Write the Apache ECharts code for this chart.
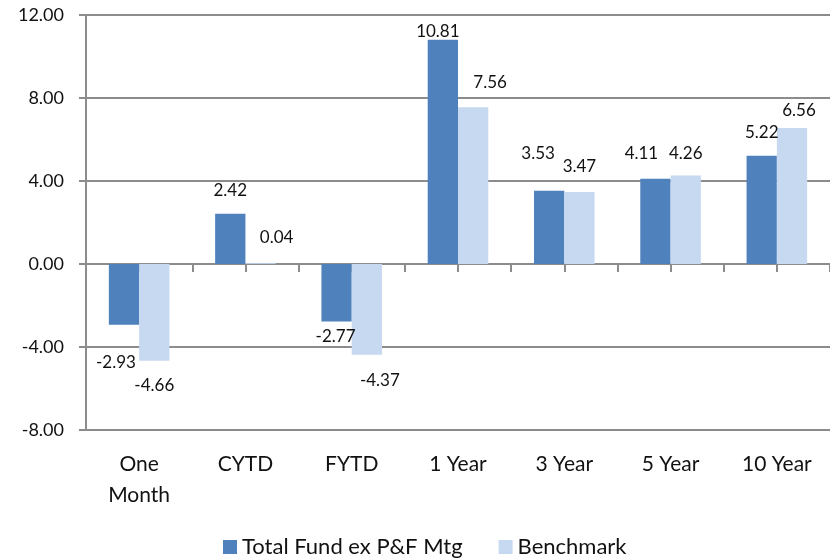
<!DOCTYPE html>
<html>
<head>
<meta charset="utf-8">
<script src="https://cdn.jsdelivr.net/npm/echarts@6/dist/echarts.min.js"></script>
<style>html,body{margin:0;padding:0;background:#fff}#c{width:830px;height:558px}</style>
</head>
<body>
<div id="c"></div>
<script>
var categories = ['One\nMonth', 'CYTD', 'FYTD', '1 Year', '3 Year', '5 Year', '10 Year'];
var fundValues = [-2.93, 2.42, -2.77, 10.81, 3.53, 4.11, 5.22];
var benchValues = [-4.66, 0.04, -4.37, 7.56, 3.47, 4.26, 6.56];
var seriesNames = ['Total Fund ex P&F Mtg', 'Benchmark'];
var yTicks = { min: -8, max: 12, step: 4 };

// label nudges (style only, pixel offsets from default label spot)
var fundNudge = [[-8, 29], [0, -15], [-1, 7], [-5, 0], [-11, -29], [-14, -17], [0, -15]];
var benchNudge = [[0, 16], [16, -17], [13, 17], [17, -16], [0, -17], [0, -14], [7, -9]];

var FONT = 'Lato, "Open Sans", sans-serif';
var GRAY = '#8c8c8c';

function buildData(vals, nudges) {
  return vals.map(function (v, i) {
    return {
      value: v,
      label: {
        position: v >= 0 ? 'top' : 'bottom',
        offset: nudges[i]
      }
    };
  });
}

var chart = echarts.init(document.getElementById('c'), null, { renderer: 'canvas' });
chart.setOption({
  animation: false,
  backgroundColor: '#fff',
  textStyle: { fontFamily: FONT },
  grid: { left: 86, right: 0, top: 15, bottom: 128, containLabel: false },
  legend: {
    data: seriesNames,
    left: 218,
    top: 531,
    icon: 'rect',
    itemWidth: 14,
    itemHeight: 14,
    itemGap: 36,
    textStyle: { fontFamily: FONT, fontSize: 22, color: '#111' }
  },
  xAxis: [
    {
      type: 'category',
      data: categories,
      position: 'bottom',
      axisLine: { show: true, onZero: false, lineStyle: { color: GRAY, width: 2 } },
      axisTick: { show: false },
      axisLabel: { fontFamily: FONT, fontSize: 21, color: '#111', margin: 19, lineHeight: 31, interval: 0 },
      splitLine: { show: false }
    },
    {
      type: 'value',
      min: 0,
      max: 14,
      interval: 1,
      position: 'bottom',
      axisLine: { show: true, onZero: true, lineStyle: { color: GRAY, width: 2 } },
      axisTick: { show: true, inside: false, length: 8, lineStyle: { color: GRAY, width: 2 } },
      axisLabel: { show: false },
      splitLine: { show: false }
    }
  ],
  yAxis: {
    type: 'value',
    min: yTicks.min,
    max: yTicks.max,
    interval: yTicks.step,
    axisLine: { show: true, lineStyle: { color: GRAY, width: 2 } },
    axisTick: { show: true, length: 7, lineStyle: { color: GRAY, width: 2 } },
    axisLabel: {
      fontFamily: FONT, fontSize: 18, color: '#111', margin: 22,
      formatter: function (v) { return v.toFixed(2); }
    },
    splitLine: { show: true, lineStyle: { color: GRAY, width: 2 } }
  },
  series: [
    {
      name: seriesNames[0],
      type: 'bar',
      xAxisIndex: 0,
      data: buildData(fundValues, fundNudge),
      barGap: '0%',
      barCategoryGap: '43%',
      itemStyle: { color: '#4F81BD' },
      label: {
        show: true, distance: 0, fontFamily: FONT, fontSize: 17, color: '#111',
        formatter: function (p) { return p.value.toFixed(2); }
      }
    },
    {
      name: seriesNames[1],
      type: 'bar',
      xAxisIndex: 0,
      data: buildData(benchValues, benchNudge),
      barGap: '0%',
      barCategoryGap: '43%',
      itemStyle: { color: '#C6D9F1' },
      label: {
        show: true, distance: 0, fontFamily: FONT, fontSize: 17, color: '#111',
        formatter: function (p) { return p.value.toFixed(2); }
      }
    }
  ]
});
</script>
</body>
</html>
